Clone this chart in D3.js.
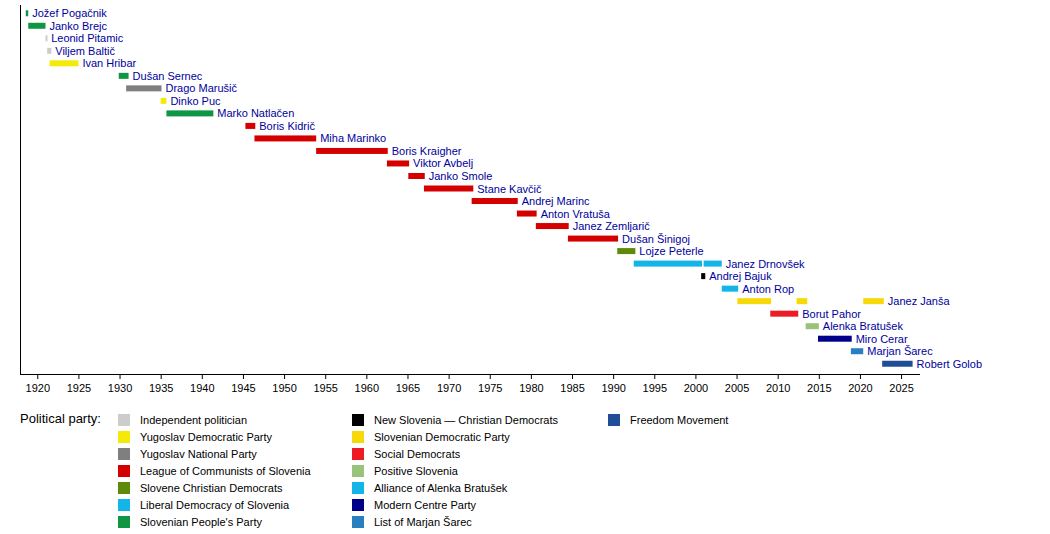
<!DOCTYPE html>
<html><head><meta charset="utf-8">
<script src="https://cdn.jsdelivr.net/npm/d3@7"></script>
<style>body{margin:0;background:#fff}text{font-family:"Liberation Sans",Arial,sans-serif}</style>
</head><body><svg id="c" width="1050" height="534"></svg>
<script>
var parties = ["Independent politician","Yugoslav Democratic Party","Yugoslav National Party","League of Communists of Slovenia","Slovene Christian Democrats","Liberal Democracy of Slovenia","Slovenian People's Party","New Slovenia — Christian Democrats","Slovenian Democratic Party","Social Democrats","Positive Slovenia","Alliance of Alenka Bratušek","Modern Centre Party","List of Marjan Šarec","Freedom Movement"];
var partyColors = ["#cccccc","#f5e90a","#7f7f7f","#d40000","#5d8a0a","#13b5e8","#0e9644","#000000","#f7d90a","#ed1c24","#99c27a","#13b5e8","#00008b","#2a7fc1","#1f4e97"];
var names = ["Jožef Pogačnik","Janko Brejc","Leonid Pitamic","Viljem Baltič","Ivan Hribar","Dušan Sernec","Drago Marušič","Dinko Puc","Marko Natlačen","Boris Kidrič","Miha Marinko","Boris Kraigher","Viktor Avbelj","Janko Smole","Stane Kavčič","Andrej Marinc","Anton Vratuša","Janez Zemljarič","Dušan Šinigoj","Lojze Peterle","Janez Drnovšek","Andrej Bajuk","Anton Rop","Janez Janša","Borut Pahor","Alenka Bratušek","Miro Cerar","Marjan Šarec","Robert Golob"];
// terms: [row, start, end, party index]
var terms = [
 [0,1918.6,1918.9,6],[1,1918.9,1921.0,6],[2,1921.0,1921.2,0],[3,1921.2,1921.7,0],
 [4,1921.5,1925.0,1],[5,1929.9,1931.1,6],[6,1930.8,1935.1,2],[7,1935.0,1935.7,1],
 [8,1935.7,1941.4,6],[9,1945.3,1946.5,3],[10,1946.4,1953.9,3],[11,1953.9,1962.6,3],
 [12,1962.5,1965.2,3],[13,1965.1,1967.1,3],[14,1967.0,1973.0,3],[15,1972.8,1978.4,3],
 [16,1978.3,1980.7,3],[17,1980.6,1984.6,3],[18,1984.5,1990.6,3],[19,1990.5,1992.7,4],
 [20,1992.5,2000.8,5],[20,2001.0,2003.2,5],[21,2000.7,2001.2,7],[22,2003.2,2005.2,5],
 [23,2005.1,2009.2,8],[23,2012.3,2013.6,8],[23,2020.4,2022.9,8],[24,2009.1,2012.5,9],
 [25,2013.4,2015.0,10],[26,2014.9,2019.0,12],[27,2018.9,2020.4,13],[28,2022.7,2026.4,14]
];
var svg = d3.select("#c");
var x = d3.scaleLinear().domain([1917.9,2027.3]).range([20,920]);
var y = d3.scaleBand().domain(d3.range(names.length)).range([7,370]);
svg.append("g").selectAll("rect").data(terms).enter().append("rect")
  .attr("x", d => x(d[1])).attr("width", d => Math.max(2, x(d[2]) - x(d[1])))
  .attr("y", d => y(d[0]) + y.bandwidth()/2 - 3).attr("height", 6)
  .attr("fill", d => partyColors[d[3]]);
svg.append("g").selectAll("text").data(names).enter().append("text")
  .attr("x", (d,i) => x(d3.max(terms.filter(t => t[0] === i), t => t[2])) + 4)
  .attr("y", (d,i) => y(i) + y.bandwidth()/2 + 4)
  .attr("font-size", 11).attr("fill", "#00009c").text(d => d);
svg.append("line").attr("x1",20.5).attr("x2",20.5).attr("y1",5).attr("y2",374).attr("stroke","#000");
var ax = svg.append("g").attr("transform","translate(0,374)");
ax.call(d3.axisBottom(x).tickValues(d3.range(1918,2028)).tickSize(3).tickFormat(""));
ax.call(d3.axisBottom(x).tickValues(d3.range(1920,2030,5)).tickSize(5).tickFormat(d3.format("d")));
ax.selectAll("text").attr("font-size",11).attr("fill","#000").attr("dy","0.9em");
ax.selectAll(".domain").remove();
svg.append("line").attr("x1",20).attr("x2",920).attr("y1",374.5).attr("y2",374.5).attr("stroke","#000");
svg.append("text").attr("x",20).attr("y",423).attr("font-size",13).text("Political party:");
var lg = svg.append("g").selectAll("g").data(parties).enter().append("g")
  .attr("transform", (d,i) => "translate(" + [118,352,608][Math.floor(i/7)] + "," + (414 + (i%7)*17) + ")");
lg.append("rect").attr("width",12).attr("height",12).attr("fill",(d,i) => partyColors[i]);
lg.append("text").attr("x",22).attr("y",10).attr("font-size",11).text(d => d);
</script></body></html>
